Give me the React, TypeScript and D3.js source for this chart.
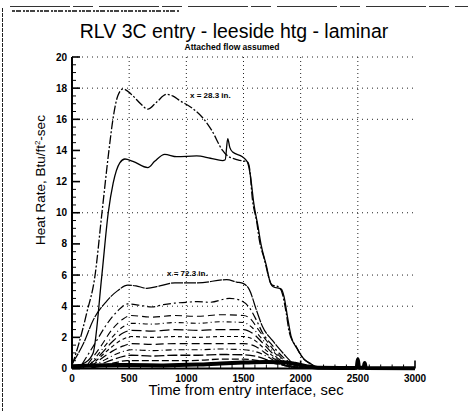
import React, { useEffect, useRef } from 'react';
import * as d3 from 'd3';

type Pt = [number, number];

// time (sec), heat rate (Btu/ft^2-sec)
const upperA: Pt[] = [
  [0, 0.2], [60, 1.6], [130, 3.6], [200, 5.9], [262, 10], [323, 14], [358, 16], [400, 17.5],
  [447, 17.95], [520, 17.6], [600, 17.0], [663, 16.65], [740, 17.1], [828, 17.6], [880, 17.5],
  [942, 17.2], [1055, 16.7], [1143, 16.1], [1221, 15.3], [1317, 14.0], [1352, 13.7], [1450, 13.4],
  [1535, 13.25], [1552, 12.9], [1579, 10.8], [1614, 9.5], [1640, 8.2], [1683, 7.0], [1727, 5.7],
  [1744, 5.4], [1814, 5.2], [1840, 4.8], [1875, 3.5], [1901, 2.3], [1962, 1.4], [2015, 0.7],
  [2076, 0.35], [2119, 0.15], [2200, 0.05]
];
const upperB: Pt[] = [
  [0, 0.1], [120, 0.4], [185, 1.0], [260, 5.9], [317, 10], [360, 11.9], [418, 13.2], [463, 13.45],
  [533, 13.3], [663, 12.9], [723, 13.3], [811, 13.75], [916, 13.6], [1090, 13.65], [1210, 13.5],
  [1317, 13.35], [1340, 13.4], [1362, 14.75], [1380, 14.2], [1405, 13.9], [1490, 13.6], [1535, 13.25],
  [1560, 12.4], [1590, 10.6], [1625, 9.2], [1655, 7.9], [1700, 6.6], [1735, 5.5], [1760, 5.25],
  [1830, 5.1], [1855, 4.6], [1885, 3.3], [1915, 2.1], [1975, 1.2], [2030, 0.6], [2090, 0.3],
  [2140, 0.1], [2220, 0.03]
];
const lowerC: Pt[] = [
  [0, 0.3], [100, 1.6], [185, 3.1], [300, 4.3], [400, 5.0], [488, 5.35], [560, 5.3], [654, 5.15],
  [767, 5.3], [900, 5.5], [1100, 5.5], [1352, 5.7], [1440, 5.55], [1500, 5.45], [1552, 5.05],
  [1613, 3.75], [1666, 2.7], [1753, 1.8], [1875, 0.75], [1927, 0.35], [2000, 0.12], [2100, 0.03]
];
const lowerD: Pt[] = [
  [90, 0.3], [200, 1.6], [300, 2.8], [400, 3.7], [488, 4.15], [600, 4.05], [700, 3.95], [800, 4.1],
  [900, 4.2], [1000, 4.25], [1100, 4.3], [1203, 4.25], [1378, 4.5], [1465, 4.4], [1552, 3.9],
  [1613, 3.1], [1666, 2.3], [1750, 1.5], [1850, 0.7], [1950, 0.2], [2050, 0.04]
];
const lowerE: Pt[] = [
  [140, 0.3], [250, 1.4], [350, 2.5], [450, 3.2], [520, 3.4], [700, 3.3], [900, 3.4], [1100, 3.35],
  [1300, 3.45], [1500, 3.4], [1560, 3.2], [1620, 2.6], [1700, 1.8], [1800, 0.9], [1900, 0.3], [2000, 0.05]
];
const lowerF: Pt[] = [
  [150, 0.2], [250, 1.1], [350, 2.0], [450, 2.7], [520, 2.9], [700, 2.85], [900, 2.95], [1100, 2.9],
  [1300, 3.0], [1500, 2.95], [1580, 2.6], [1650, 2.0], [1720, 1.4], [1800, 0.8], [1900, 0.25], [2000, 0.05]
];
const lowerG: Pt[] = [
  [150, 0.2], [250, 0.9], [350, 1.7], [450, 2.3], [520, 2.45], [700, 2.4], [900, 2.5], [1100, 2.45],
  [1300, 2.5], [1500, 2.5], [1590, 2.2], [1660, 1.7], [1730, 1.15], [1810, 0.6], [1900, 0.2], [2000, 0.04]
];
const lowerH: Pt[] = [
  [160, 0.15], [250, 0.75], [350, 1.4], [450, 1.9], [520, 2.05], [700, 2.0], [900, 2.05], [1100, 2.0],
  [1300, 2.05], [1500, 2.05], [1600, 1.8], [1670, 1.35], [1740, 0.9], [1820, 0.45], [1900, 0.15], [2000, 0.03]
];
const lowerI: Pt[] = [
  [160, 0.1], [250, 0.6], [350, 1.1], [450, 1.45], [520, 1.6], [700, 1.55], [900, 1.6], [1100, 1.6],
  [1300, 1.6], [1500, 1.6], [1610, 1.4], [1680, 1.05], [1750, 0.7], [1830, 0.35], [1900, 0.12], [2000, 0.02]
];
const lowerJ: Pt[] = [
  [170, 0.1], [260, 0.45], [350, 0.8], [450, 1.1], [520, 1.2], [700, 1.15], [900, 1.2], [1100, 1.2],
  [1300, 1.25], [1500, 1.2], [1620, 1.05], [1700, 0.8], [1770, 0.5], [1840, 0.25], [1920, 0.08]
];
const lowerK: Pt[] = [
  [170, 0.05], [260, 0.3], [350, 0.55], [450, 0.78], [520, 0.85], [700, 0.8], [900, 0.85], [1100, 0.85],
  [1300, 0.9], [1500, 0.88], [1630, 0.75], [1710, 0.55], [1790, 0.35], [1860, 0.18], [1940, 0.05]
];
const lowerL: Pt[] = [
  [180, 0.05], [280, 0.2], [380, 0.38], [480, 0.5], [700, 0.5], [900, 0.5], [1100, 0.52],
  [1300, 0.6], [1500, 0.6], [1640, 0.5], [1730, 0.38], [1820, 0.25], [1900, 0.12], [1980, 0.04]
];
const baseM: Pt[] = [
  [0, 0.15], [200, 0.2], [500, 0.22], [800, 0.2], [1100, 0.25], [1300, 0.32], [1500, 0.38],
  [1700, 0.42], [1850, 0.4], [1950, 0.3], [2050, 0.15], [2150, 0.05], [2450, 0.03], [2490, 0.05],
  [2500, 0.6], [2510, 0.05], [2550, 0.05], [2560, 0.35], [2570, 0.03], [3000, 0.02]
];

const allSeries: { data: Pt[]; dash: string; width: number }[] = [
  { data: upperA, dash: '9,2,2,2', width: 1.3 },
  { data: upperB, dash: '', width: 1.3 },
  { data: lowerC, dash: '12,1', width: 1.2 },
  { data: lowerD, dash: '8,3,2,3', width: 1.2 },
  { data: lowerE, dash: '7,4', width: 1.1 },
  { data: lowerF, dash: '5,3,1,3', width: 1.1 },
  { data: lowerG, dash: '10,4', width: 1.2 },
  { data: lowerH, dash: '4,3', width: 1.1 },
  { data: lowerI, dash: '8,4', width: 1.2 },
  { data: lowerJ, dash: '6,3,1,3', width: 1.1 },
  { data: lowerK, dash: '10,3', width: 1.3 },
  { data: lowerL, dash: '7,3', width: 1.3 },
  { data: baseM, dash: '', width: 4 }
];

const yTicks = [0, 2, 4, 6, 8, 10, 12, 14, 16, 18, 20];
const xTicks = [0, 500, 1000, 1500, 2000, 2500, 3000];
const yGrid = [4, 6, 10, 16, 18, 20];
const xGrid = [500, 1000, 1500, 2000, 2500];

const App: React.FC = () => {
  const svgRef = useRef<SVGSVGElement>(null);

  useEffect(() => {
    if (!svgRef.current) return;
    const svg = d3.select(svgRef.current);
    svg.selectAll('*').remove();

    const font = 'Arial, "Liberation Sans", sans-serif';
    const x = d3.scaleLinear().domain([0, 3000]).range([72, 415]);
    const y = d3.scaleLinear().domain([0, 20]).range([368.5, 57]);

    // page frame bits from the scan
    svg.append('line').attr('x1', 2.5).attr('x2', 2.5).attr('y1', 8).attr('y2', 411)
      .attr('stroke', '#222').attr('stroke-dasharray', '4,1');
    svg.append('line').attr('x1', 10).attr('x2', 468).attr('y1', 6.5).attr('y2', 6.5)
      .attr('stroke', '#333').attr('stroke-dasharray', '60,3,20,6');
    svg.append('line').attr('x1', 12).attr('x2', 180).attr('y1', 11).attr('y2', 11)
      .attr('stroke', '#444').attr('stroke-width', 2).attr('stroke-dasharray', '3,1,5,2,2,1');

    // grid
    const grid = svg.append('g').attr('stroke', '#222').attr('stroke-width', 1).attr('stroke-dasharray', '1,4');
    yGrid.forEach(v => {
      grid.append('line').attr('x1', x(0)).attr('x2', x(3000)).attr('y1', y(v)).attr('y2', y(v));
    });
    xGrid.forEach(t => {
      grid.append('line').attr('x1', x(t)).attr('x2', x(t)).attr('y1', y(20)).attr('y2', y(0))
        .attr('stroke-dasharray', '1,3');
    });

    // curves
    const line = d3.line<Pt>()
      .x(d => x(d[0]))
      .y(d => y(d[1]))
      .curve(d3.curveMonotoneX);

    allSeries.forEach(s => {
      svg.append('path')
        .datum(s.data)
        .attr('fill', 'none')
        .attr('stroke', '#000')
        .attr('stroke-width', s.width)
        .attr('stroke-dasharray', s.dash || null)
        .attr('d', line);
    });

    // axes
    const ax = svg.append('g').attr('stroke', '#000');
    ax.append('line').attr('x1', x(0)).attr('x2', x(0)).attr('y1', y(20)).attr('y2', y(0)).attr('stroke-width', 2);
    ax.append('line').attr('x1', x(0)).attr('x2', x(3000)).attr('y1', y(0)).attr('y2', y(0)).attr('stroke-width', 2);
    d3.range(0, 20.01, 0.5).forEach(v => {
      const major = v % 2 === 0;
      ax.append('line').attr('x1', x(0)).attr('x2', x(0) + (major ? 8 : 4))
        .attr('y1', y(v)).attr('y2', y(v)).attr('stroke-width', major ? 1.6 : 1);
    });
    d3.range(0, 3001, 100).forEach(t => {
      const major = t % 500 === 0;
      ax.append('line').attr('x1', x(t)).attr('x2', x(t))
        .attr('y1', y(0)).attr('y2', y(0) - (major ? 8 : 4)).attr('stroke-width', major ? 1.6 : 1);
    });

    svg.append('g').selectAll('text').data(yTicks).join('text')
      .attr('x', x(0) - 5).attr('y', d => y(d) + 3.5)
      .attr('text-anchor', 'end').attr('font-family', font).attr('font-size', 10).attr('font-weight', 'bold')
      .text(d => d);
    svg.append('g').selectAll('text').data(xTicks).join('text')
      .attr('x', d => x(d)).attr('y', y(0) + 13)
      .attr('text-anchor', 'middle').attr('font-family', font).attr('font-size', 10).attr('font-weight', 'bold')
      .text(d => d);

    // titles and labels
    svg.append('text').attr('x', 234).attr('y', 38).attr('text-anchor', 'middle')
      .attr('font-family', font).attr('font-size', 19.5)
      .text('RLV 3C entry - leeside htg - laminar');
    svg.append('text').attr('x', 232).attr('y', 50).attr('text-anchor', 'middle')
      .attr('font-family', font).attr('font-size', 8.5).attr('font-weight', 'bold')
      .text('Attached flow assumed');

    const yl = svg.append('text').attr('transform', 'translate(45,180) rotate(-90)')
      .attr('text-anchor', 'middle').attr('font-family', font).attr('font-size', 13.5);
    yl.append('tspan').text('Heat Rate, Btu/ft');
    yl.append('tspan').attr('font-size', 8).attr('dy', -5).text('2');
    yl.append('tspan').attr('dy', 5).text('-sec');

    svg.append('text').attr('x', 246).attr('y', 395).attr('text-anchor', 'middle')
      .attr('font-family', font).attr('font-size', 14.8)
      .text('Time from entry interface, sec');

    svg.append('text').attr('x', 190).attr('y', 98)
      .attr('font-family', font).attr('font-size', 8).attr('font-weight', 'bold')
      .text('x = 28.3 in.');
    svg.append('text').attr('x', 167).attr('y', 276)
      .attr('font-family', font).attr('font-size', 8).attr('font-weight', 'bold')
      .text('x = 72.3 in.');
  }, []);

  return (
    <div style={{ position: 'fixed', left: 0, top: 0, background: '#fff' }}>
      <svg ref={svgRef} width={468} height={411} viewBox="0 0 468 411" />
    </div>
  );
};

export default App;
